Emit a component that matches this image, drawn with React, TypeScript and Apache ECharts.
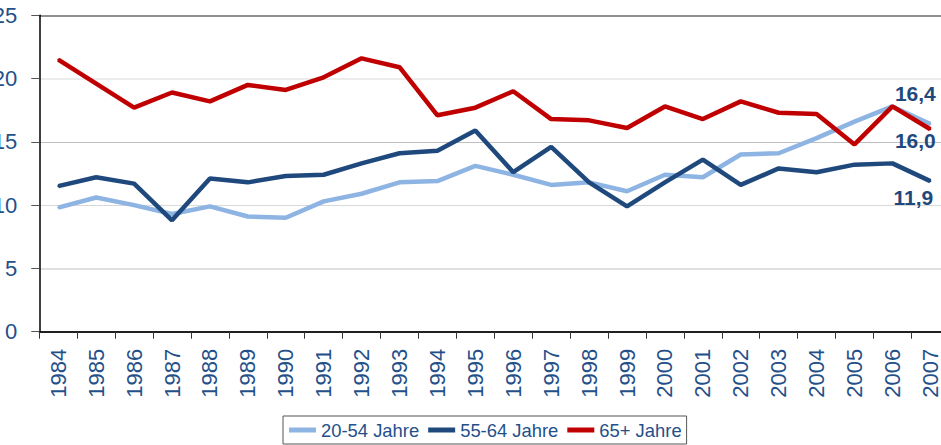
import React, { useEffect, useRef } from "react";
import * as echarts from "echarts";

const years = ["1984","1985","1986","1987","1988","1989","1990","1991","1992","1993","1994","1995","1996","1997","1998","1999","2000","2001","2002","2003","2004","2005","2006","2007"];
const age2054 = [9.8,10.6,10.0,9.3,9.9,9.1,9.0,10.3,10.9,11.8,11.9,13.1,12.4,11.6,11.8,11.1,12.4,12.2,14.0,14.1,15.3,16.6,17.8,16.4];
const age5564 = [11.5,12.2,11.7,8.8,12.1,11.8,12.3,12.4,13.3,14.1,14.3,15.9,12.6,14.6,11.8,9.9,11.8,13.6,11.6,12.9,12.6,13.2,13.3,11.9];
const age65 = [21.5,19.6,17.7,18.9,18.2,19.5,19.1,20.1,21.6,20.9,17.1,17.7,19.0,16.8,16.7,16.1,17.8,16.8,18.2,17.3,17.2,14.8,17.8,16.0];
const yTicks = [0, 5, 10, 15, 20, 25];

const seriesNames = ["20-54 Jahre", "55-64 Jahre", "65+ Jahre"];
const seriesColors = ["#8db4e2", "#1f497d", "#c00000"];

const FONT = "'Liberation Sans', Arial, sans-serif";
const TEXT = "#24508a";

function withEndLabel(values: number[], offset: [number, number]) {
  return values.map((v, i) =>
    i === values.length - 1
      ? {
          value: v,
          label: {
            show: true,
            position: "inside",
            offset,
            formatter: (p: any) => String(p.value.toFixed(1)).replace(".", ","),
            color: "#1f497d",
            fontFamily: FONT,
            fontWeight: "bold",
            fontSize: 21,
          },
        }
      : v
  );
}

export default function App() {
  const ref = useRef<HTMLDivElement>(null);
  useEffect(() => {
    document.body.style.margin = "0";
    const chart = echarts.init(ref.current!, null, { renderer: "svg" });
    const datasets = [
      withEndLabel(age2054, [-15, -31]),
      withEndLabel(age5564, [-17, 16]),
      withEndLabel(age65, [-15, 11.5]),
    ];
    chart.setOption({
      animation: false,
      backgroundColor: "#ffffff",
      grid: {
        left: 39.3,
        top: 15.3,
        width: 910,
        height: 316.4,
        containLabel: false,
        outerBoundsMode: "none",
      },
      legend: {
        left: 283,
        top: 416,
        orient: "horizontal",
        data: seriesNames,
        itemWidth: 27,
        itemHeight: 5,
        itemGap: 9,
        padding: [5, 5, 5, 6],
        borderColor: "#555",
        borderWidth: 1,
        borderRadius: 0,
        icon: "rect",
        textStyle: { color: TEXT, fontSize: 18.4, fontFamily: FONT },
      },
      xAxis: {
        type: "category",
        data: years,
        boundaryGap: true,
        axisLine: { lineStyle: { color: "#000", width: 1.5 } },
        axisTick: { show: true, alignWithLabel: false, length: 7, lineStyle: { color: "#333" } },
        axisLabel: {
          rotate: 90,
          interval: 0,
          margin: 17,
          color: TEXT,
          fontSize: 22,
          fontFamily: FONT,
          hideOverlap: false,
        },
      },
      yAxis: {
        type: "value",
        min: 0,
        max: 25,
        interval: 5,
        axisLine: { show: true, lineStyle: { color: "#000", width: 1.5 } },
        axisTick: { show: true, length: 8, lineStyle: { color: "#555" } },
        axisLabel: {
          margin: 22,
          color: TEXT,
          fontSize: 22,
          fontFamily: FONT,
          formatter: (v: number) => (yTicks.includes(v) ? String(v) : ""),
        },
        splitLine: {
          show: true,
          lineStyle: {
            color: ["#000", "#c0c0c0", "#d9d9d9", "#c0c0c0", "#d9d9d9", "#222"],
            width: [1, 1, 2, 1, 2, 1.5] as any,
          },
        },
      },
      series: seriesNames.map((name, i) => ({
        name,
        type: "line",
        data: datasets[i],
        symbol: "circle",
        symbolSize: 2,
        showSymbol: true,
        itemStyle: { color: seriesColors[i], borderWidth: 0 },
        lineStyle: { color: seriesColors[i], width: 4.5 },
        z: i === 0 ? 2 : i === 1 ? 3 : 4,
      })),
    });
    return () => chart.dispose();
  }, []);
  return <div ref={ref} style={{ width: 941, height: 445 }} />;
}
